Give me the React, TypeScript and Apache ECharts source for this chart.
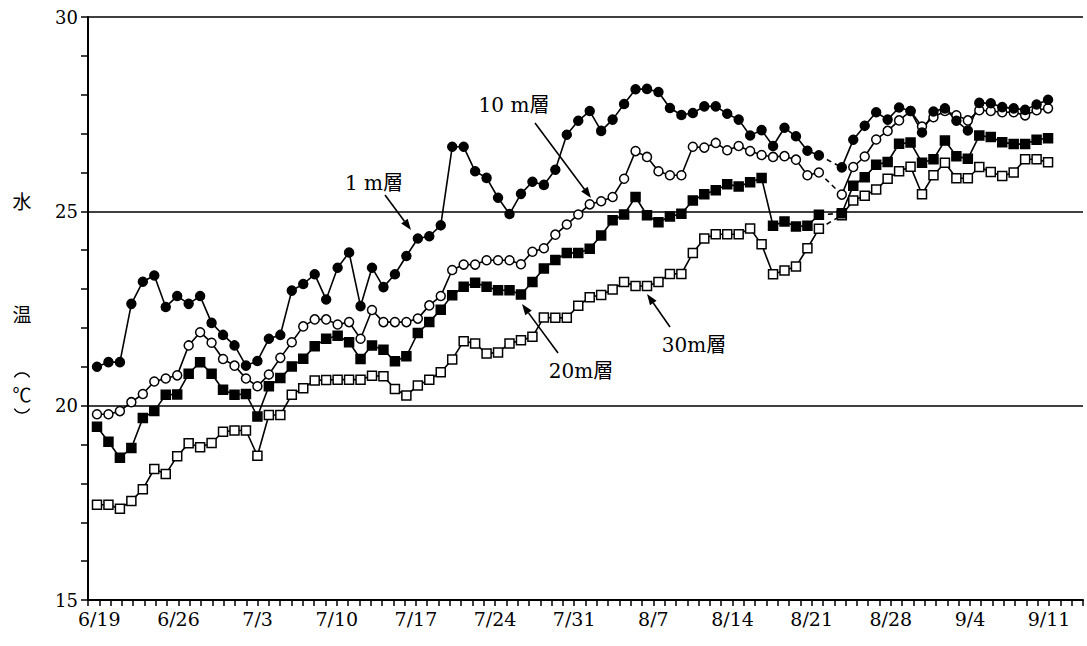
import React, { useEffect, useRef } from "react";
import * as echarts from "echarts";

// Weekly date labels on the calendar axis (day 0 = 6/19, one label every 7 days)
const DATE_LABELS = ["6/19", "6/26", "7/3", "7/10", "7/17", "7/24", "7/31", "8/7", "8/14", "8/21", "8/28", "9/4", "9/11"];

// Daily water temperature (°C) by depth layer, one value per observation; null = no observation
const LAYER_1M = [
  21.0, 21.12, 21.12, 22.62, 23.19, 23.35, 22.54, 22.82, 22.62, 22.82,
  22.13, 21.82, 21.55, 21.03, 21.15, 21.72, 21.82, 22.96, 23.13, 23.38,
  22.73, 23.55, 23.94, 22.56, 23.55, 23.05, 23.38, 23.85, 24.3, 24.36,
  24.64, 26.66, 26.66, 26.03, 25.86, 25.35, 24.93, 25.45, 25.76, 25.68,
  26.07, 26.97, 27.33, 27.58, 27.07, 27.36, 27.76, 28.14, 28.15, 28.07,
  27.66, 27.48, 27.53, 27.7, 27.7, 27.51, 27.36, 26.95, 27.09, 26.68,
  27.15, 26.93, 26.56, 26.44, null, 26.13, 26.84, 27.2, 27.55, 27.36,
  27.67, 27.58, 27.03, 27.57, 27.65, 27.33, 27.08, 27.79, 27.78, 27.68,
  27.65, 27.61, 27.75, 27.87,
];
const LAYER_10M = [
  19.78, 19.78, 19.86, 20.09, 20.3, 20.62, 20.7, 20.78, 21.55, 21.89,
  21.62, 21.2, 21.03, 20.7, 20.5, 20.8, 21.23, 21.63, 22.04, 22.22,
  22.22, 22.09, 22.15, 21.72, 22.46, 22.15, 22.15, 22.15, 22.24, 22.58,
  22.82, 23.49, 23.63, 23.63, 23.74, 23.74, 23.74, 23.64, 23.96, 24.05,
  24.4, 24.66, 24.92, 25.18, 25.26, 25.37, 25.84, 26.55, 26.4, 26.03,
  25.93, 25.93, 26.66, 26.64, 26.76, 26.57, 26.68, 26.55, 26.45, 26.4,
  26.42, 26.33, 25.93, 26.0, null, 25.43, 26.14, 26.41, 26.85, 27.07,
  27.34, 27.58, 27.18, 27.42, 27.58, 27.47, 27.34, 27.6, 27.58, 27.55,
  27.55, 27.47, 27.6, 27.65,
];
const LAYER_20M = [
  19.46, 19.07, 18.66, 18.91, 19.68, 19.86, 20.28, 20.29, 20.82, 21.12,
  20.82, 20.41, 20.28, 20.3, 19.72, 20.5, 20.71, 21.01, 21.21, 21.53,
  21.72, 21.8, 21.63, 21.2, 21.55, 21.44, 21.14, 21.27, 21.87, 22.15,
  22.47, 22.84, 23.06, 23.16, 23.06, 22.97, 22.97, 22.86, 23.18, 23.53,
  23.75, 23.93, 23.93, 24.04, 24.38, 24.77, 24.92, 25.37, 24.9, 24.72,
  24.87, 24.94, 25.28, 25.44, 25.54, 25.7, 25.64, 25.75, 25.86, 24.63,
  24.74, 24.61, 24.63, 24.91, null, 24.95, 25.66, 25.88, 26.2, 26.27,
  26.74, 26.77, 26.25, 26.34, 26.82, 26.42, 26.35, 26.95, 26.91, 26.78,
  26.73, 26.73, 26.84, 26.88,
];
const LAYER_30M = [
  17.45, 17.45, 17.35, 17.55, 17.85, 18.37, 18.24, 18.7, 19.03, 18.93,
  19.04, 19.33, 19.36, 19.36, 18.71, 19.76, 19.76, 20.28, 20.45, 20.65,
  20.66, 20.67, 20.67, 20.67, 20.77, 20.76, 20.43, 20.26, 20.52, 20.67,
  20.86, 21.19, 21.66, 21.6, 21.34, 21.37, 21.6, 21.68, 21.77, 22.27,
  22.26, 22.26, 22.57, 22.79, 22.85, 22.99, 23.18, 23.08, 23.08, 23.18,
  23.39, 23.39, 23.93, 24.3, 24.41, 24.41, 24.41, 24.56, 24.15, 23.38,
  23.48, 23.58, 24.05, 24.55, null, 24.9, 25.28, 25.4, 25.56, 25.84,
  26.03, 26.15, 25.44, 25.93, 26.25, 25.85, 25.85, 26.14, 26.01, 25.91,
  26.0, 26.34, 26.34, 26.26,
];

const LAYERS = [
  { name: "30m層", values: LAYER_30M, symbol: "rect", filled: false },
  { name: "20m層", values: LAYER_20M, symbol: "rect", filled: true },
  { name: "10m層", values: LAYER_10M, symbol: "circle", filled: false },
  { name: "1m層", values: LAYER_1M, symbol: "circle", filled: true },
];

// Observation index axis spans the plotted run of samples (first sample just right of the y axis)
const OBS_MIN = -0.785;
const OBS_MAX = 86.05;

const SERIF = "'DejaVu Serif', 'Liberation Serif', 'Noto Sans CJK JP', serif";
const CJK = "'Noto Sans CJK JP', sans-serif";

function arrow(x1: number, y1: number, x2: number, y2: number) {
  const a = Math.atan2(y2 - y1, x2 - x1);
  const L = 11;
  const W = 4;
  const bx = x2 - L * Math.cos(a);
  const by = y2 - L * Math.sin(a);
  return [
    {
      type: "line",
      shape: { x1, y1, x2: bx, y2: by },
      style: { stroke: "#000", lineWidth: 1.6 },
      z: 100,
    },
    {
      type: "polygon",
      shape: {
        points: [
          [x2, y2],
          [bx + W * Math.sin(a), by - W * Math.cos(a)],
          [bx - W * Math.sin(a), by + W * Math.cos(a)],
        ],
      },
      style: { fill: "#000" },
      z: 100,
    },
  ];
}

function label(text: string, x: number, y: number, size = 20) {
  return {
    type: "text",
    x,
    y,
    z: 100,
    style: {
      text,
      fill: "#000",
      fontSize: size,
      fontFamily: SERIF,
      align: "center",
      verticalAlign: "middle",
    },
  };
}

function cjk(text: string, x: number, y: number, size = 19) {
  return {
    type: "text",
    x,
    y,
    z: 100,
    style: {
      text,
      fill: "#000",
      fontSize: size,
      fontFamily: CJK,
      align: "center",
      verticalAlign: "middle",
    },
  };
}

// vertical-writing parenthesis drawn as a shallow arc (top opens down, bottom opens up)
function paren(cx: number, cy: number, top: boolean) {
  const r = 9;
  return {
    type: "arc",
    z: 100,
    shape: top
      ? { cx, cy, r, startAngle: Math.PI + 0.55, endAngle: 2 * Math.PI - 0.55, clockwise: true }
      : { cx, cy, r, startAngle: 0.55, endAngle: Math.PI - 0.55, clockwise: true },
    style: { stroke: "#000", lineWidth: 1.3, fill: "none" },
  };
}

export default function App() {
  const ref = useRef<HTMLDivElement>(null);

  useEffect(() => {
    if (!ref.current) return;
    const chart = echarts.init(ref.current, undefined, { renderer: "svg" });

    const series: any[] = [];
    LAYERS.forEach((layer) => {
      const data = layer.values.map((v, i) => [i, v === null ? "-" : v]);
      series.push({
        name: layer.name,
        type: "line",
        xAxisIndex: 1,
        data,
        connectNulls: false,
        symbol: layer.symbol,
        symbolSize: 9,
        showSymbol: true,
        lineStyle: { color: "#000", width: 1.6 },
        itemStyle: {
          color: layer.filled ? "#000" : "#fff",
          borderColor: "#000",
          borderWidth: 1.5,
        },
        emphasis: { disabled: true },
        silent: true,
      });
      // dashed bridge across a missing observation
      layer.values.forEach((v, i) => {
        if (v === null && i > 0 && i < layer.values.length - 1) {
          series.push({
            type: "line",
            xAxisIndex: 1,
            data: [
              [i - 1, layer.values[i - 1]],
              [i + 1, layer.values[i + 1]],
            ],
            symbol: "none",
            lineStyle: { color: "#000", width: 1.6, type: [5, 4] },
            z: 1,
            silent: true,
          });
        }
      });
    });

    chart.setOption({
      animation: false,
      backgroundColor: "#fff",
      grid: { left: 88, right: 4, top: 17, bottom: 46 },
      xAxis: [
        {
          type: "value",
          min: -1,
          max: 87,
          interval: 1,
          axisLine: { onZero: false, lineStyle: { color: "#000", width: 2 } },
          axisTick: { length: 6, lineStyle: { color: "#000", width: 1.5 } },
          splitLine: { show: false },
          axisLabel: {
            color: "#000",
            fontSize: 19,
            fontFamily: SERIF,
            margin: 9,
            formatter: (v: number) => {
              const d = Math.round(v);
              if (d < 0 || d % 7 !== 0) return "";
              return DATE_LABELS[d / 7] ?? "";
            },
          },
        },
        {
          type: "value",
          min: OBS_MIN,
          max: OBS_MAX,
          show: false,
        },
      ],
      yAxis: {
        type: "value",
        min: 15,
        max: 30,
        interval: 5,
        axisLine: { show: true, onZero: false, lineStyle: { color: "#000", width: 2 } },
        axisTick: { show: true, length: 7, lineStyle: { color: "#000", width: 1.5 } },
        minorTick: { show: true, splitNumber: 5, length: 7, lineStyle: { color: "#000", width: 1.5 } },
        splitLine: { show: true, lineStyle: { color: "#000", width: 1.5 } },
        axisLabel: { color: "#000", fontSize: 18, fontFamily: SERIF, margin: 10 },
      },
      series,
      graphic: [
        cjk("水", 22, 200),
        cjk("温", 22, 313),
        paren(22, 382, true),
        cjk("℃", 22, 393),
        paren(22, 404, false),
        label("1 m層", 374, 183),
        label("10 m層", 514, 105),
        label("20m層", 581, 371),
        label("30m層", 694, 345),
        ...arrow(385, 195, 411, 230),
        ...arrow(535, 123, 591, 198),
        ...arrow(558, 353, 522, 304),
        ...arrow(670, 327, 647, 294),
      ],
    });

    return () => chart.dispose();
  }, []);

  return (
    <div
      ref={ref}
      style={{ position: "absolute", left: 0, top: 0, width: 1087, height: 646, background: "#fff" }}
    />
  );
}
